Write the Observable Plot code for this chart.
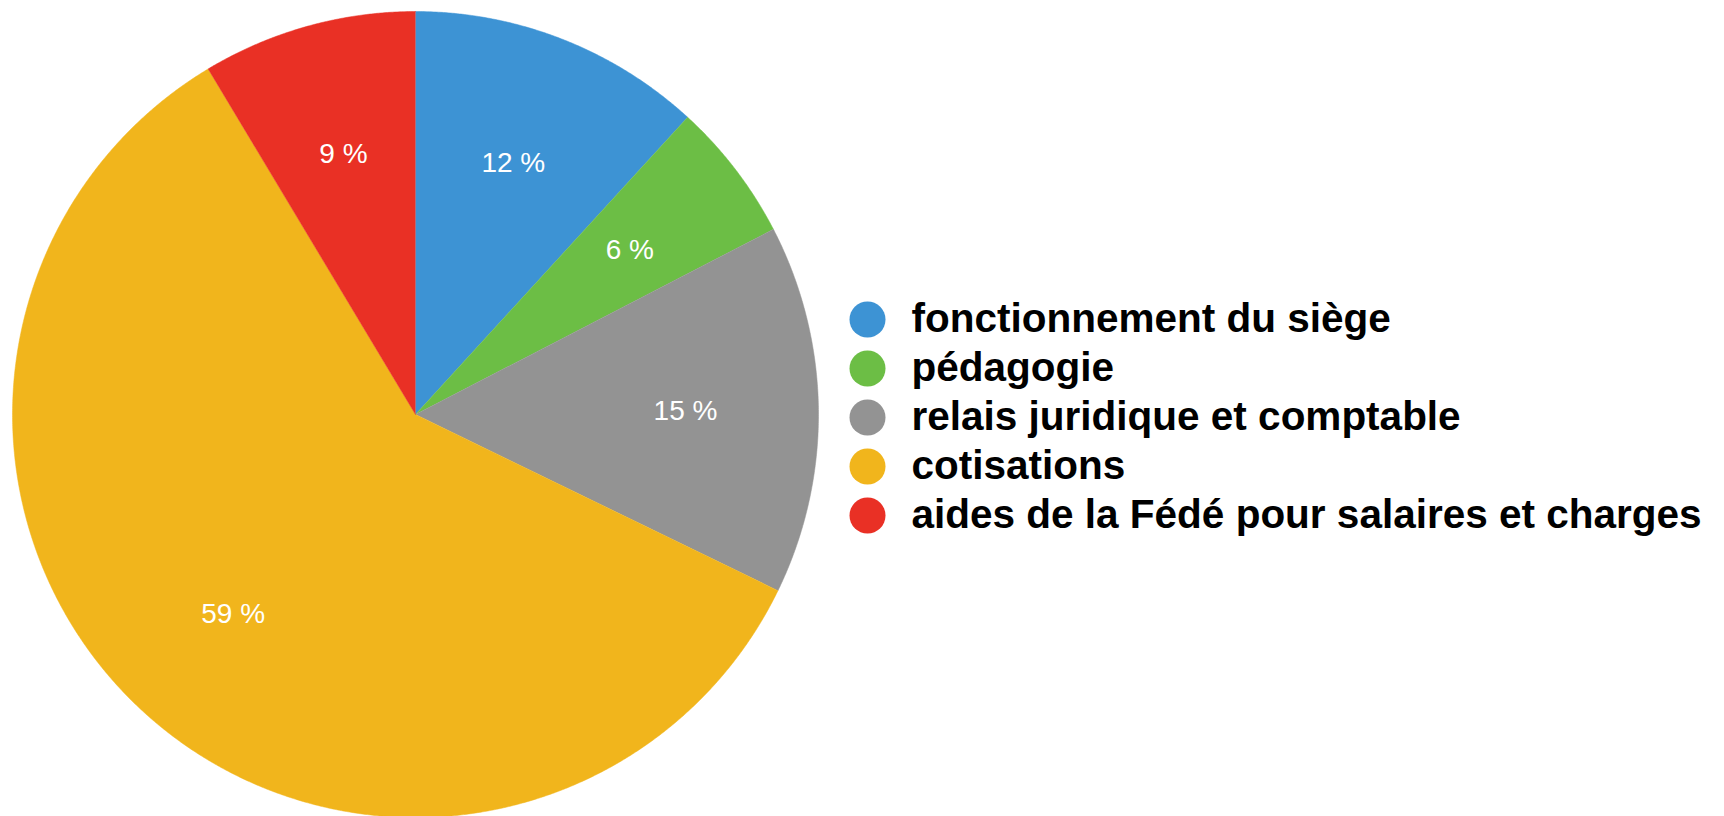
<!DOCTYPE html>
<html><head><meta charset="utf-8">
<script src="https://cdn.jsdelivr.net/npm/d3@7"></script>
<script src="https://cdn.jsdelivr.net/npm/@observablehq/plot@0.6"></script>
<style>html,body{margin:0;padding:0;background:#fff;overflow:hidden;}</style>
</head><body><div id="chart"></div>
<script>
// Data
const categories = ["fonctionnement du siège", "pédagogie", "relais juridique et comptable", "cotisations", "aides de la Fédé pour salaires et charges"];
const shares = [11.8, 5.6, 14.8, 59.2, 8.6];
const pctLabels = ["12 %", "6 %", "15 %", "59 %", "9 %"];
const colors = ["#3d93d4", "#6cbe45", "#939393", "#f1b51c", "#e93025"];

// Layout
const W = 1724, H = 816, cx = 415, cy = 414, R = 403, labelR = 270;
const legendX = 867, legendTextX = 911, legendY0 = 319, legendStep = 49, dotR = 18;

const data = categories.map((name, i) => ({name, value: shares[i], label: pctLabels[i], i}));
const arcs = d3.pie().sort(null).value(d => d.value)(data);
const wedgePts = arcs.flatMap(a => {
  const n = Math.max(2, Math.ceil((a.endAngle - a.startAngle) / (Math.PI / 720)));
  const pts = [{name: a.data.name, x: cx, y: cy}];
  for (let k = 0; k <= n; k++) {
    const t = a.startAngle + (a.endAngle - a.startAngle) * k / n;
    pts.push({name: a.data.name, x: cx + R * Math.sin(t), y: cy - R * Math.cos(t)});
  }
  return pts;
});
const sliceLabels = arcs.map(a => {
  const m = (a.startAngle + a.endAngle) / 2;
  return {label: a.data.label, x: cx + labelR * Math.sin(m), y: cy - labelR * Math.cos(m)};
});
const legend = data.map(d => ({name: d.name, x: legendX, tx: legendTextX, y: legendY0 + legendStep * d.i}));

const chart = Plot.plot({
  width: W, height: H,
  margin: 0,
  style: {background: "#fff"},
  x: {domain: [0, W], range: [0, W], axis: null},
  y: {domain: [0, H], range: [0, H], axis: null},
  color: {domain: categories, range: colors},
  marks: [
    Plot.line(wedgePts, {x: "x", y: "y", z: "name", fill: "name", stroke: "name", strokeWidth: 0.5, curve: "linear"}),
    Plot.text(sliceLabels, {x: "x", y: "y", text: "label", fill: "white", fontSize: 28, fontFamily: "Liberation Sans, Arial, sans-serif"}),
    Plot.dot(legend, {x: "x", y: "y", r: dotR, fill: "name", stroke: null}),
    Plot.text(legend, {x: "tx", y: "y", text: "name", textAnchor: "start", fill: "black", fontSize: 40.5, fontWeight: "bold", fontFamily: "Liberation Sans, Arial, sans-serif"})
  ]
});
document.getElementById("chart").appendChild(chart);
</script>
</body></html>
